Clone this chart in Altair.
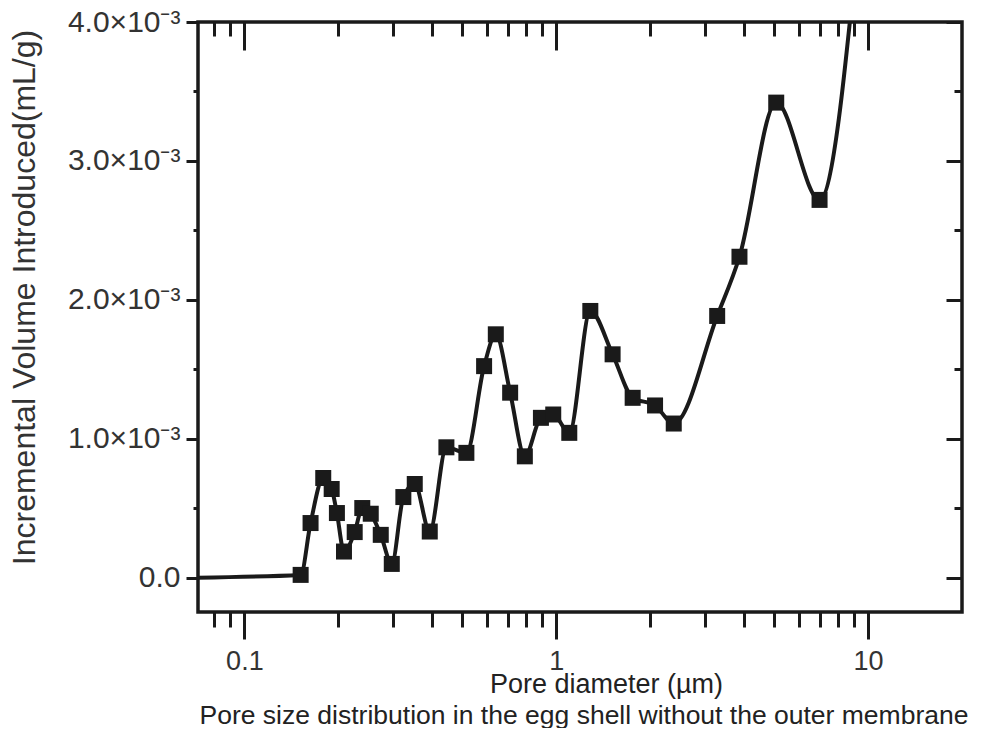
import altair as alt
import pandas as pd

# Pore diameter (µm) and incremental volume (×10^-3 mL/g)
diameter_um = [0.06, 0.1515, 0.163, 0.179, 0.1905, 0.198, 0.2086, 0.2258, 0.2388,
               0.2542, 0.2737, 0.2969, 0.3234, 0.3518, 0.393, 0.4444, 0.515, 0.587,
               0.640, 0.7115, 0.793, 0.893, 0.978, 1.101, 1.286, 1.516, 1.758, 2.074,
               2.381, 3.281, 3.868, 5.074, 6.987, 9.3]
volume_e3 = [0.0, 0.022, 0.395, 0.719, 0.64, 0.467, 0.19, 0.33, 0.503,
             0.462, 0.31, 0.101, 0.582, 0.676, 0.334, 0.94, 0.90, 1.524,
             1.753, 1.333, 0.875, 1.152, 1.176, 1.044, 1.921, 1.609, 1.296, 1.241,
             1.111, 1.885, 2.311, 3.42, 2.72, 4.6]

x_major = [0.1, 1, 10]
x_minor = [0.08, 0.09, 0.2, 0.3, 0.4, 0.5, 0.6, 0.7, 0.8, 0.9, 2, 3, 4, 5, 6, 7, 8, 9]
y_major = [0.0, 0.001, 0.002, 0.003, 0.004]
y_minor = [0.0005, 0.0015, 0.0025, 0.0035]

x_title = "Pore diameter (µm)"
y_title = "Incremental Volume Introduced(mL/g)"
caption = "Pore size distribution in the egg shell without the outer membrane"

df = pd.DataFrame({"d": diameter_um, "v": [v / 1000 for v in volume_e3]})

C = "#1a1a1a"
xs = alt.Scale(type="log", domain=[0.071, 20], nice=False)
ys = alt.Scale(domain=[-0.000245, 0.004], nice=False, zero=False)


def tick_axis(orient, values, size, offset=0):
    return alt.Axis(orient=orient, values=values, tickSize=size, offset=offset,
                    tickWidth=3, tickColor=C, domain=False, grid=False,
                    labels=False, title="")


base = alt.Chart(df)

main = base.mark_line(
    interpolate="monotone", clip=True, strokeWidth=4, color=C,
    point=alt.OverlayMarkDef(shape="square", size=256, filled=True, color=C,
                             opacity=1, clip=True),
).encode(
    x=alt.X("d:Q", scale=xs, axis=alt.Axis(
        orient="bottom", values=x_major, tickSize=27, tickWidth=3, tickColor=C,
        domain=False, grid=False, format="~g",
        labelFont="Liberation Sans", labelFontSize=27, labelColor="#333",
        labelPadding=9, labelOverlap=False, labelFlush=False,
        title=x_title, titleFont="Liberation Sans", titleFontSize=27,
        titleFontWeight="normal", titleColor="#222", titleX=408, titleY=80,
        titleAlign="center", titleBaseline="alphabetic")),
    y=alt.Y("v:Q", scale=ys, axis=alt.Axis(
        orient="left", values=y_major, tickSize=12, tickWidth=3, tickColor=C,
        domain=False, grid=False,
        labelExpr="datum.value == 0 ? '0.0' : format(datum.value * 1000, '.1f') + '×10⁻³'",
        labelFont="Liberation Sans", labelFontSize=30, labelColor="#333",
        labelPadding=6, labelOverlap=False, labelFlush=False,
        title=y_title, titleFont="Liberation Sans", titleFontSize=32,
        titleFontWeight="normal", titleColor="#333", titleX=-174, titleY=275,
        titleAngle=270, titleAlign="center", titleBaseline="middle")),
)

minor_in = base.mark_point(opacity=0, clip=True).encode(
    x=alt.X("d:Q", scale=xs, axis=tick_axis("bottom", x_minor, 15)),
    y=alt.Y("v:Q", scale=ys, axis=tick_axis("left", y_minor, 5)),
)
top_right_major = base.mark_point(opacity=0, clip=True).encode(
    x=alt.X("d:Q", scale=xs, axis=tick_axis("top", x_major, 28, -28)),
    y=alt.Y("v:Q", scale=ys, axis=tick_axis("right", y_major, 16, -16)),
)
top_right_minor = base.mark_point(opacity=0, clip=True).encode(
    x=alt.X("d:Q", scale=xs, axis=tick_axis("top", x_minor, 14, -14)),
    y=alt.Y("v:Q", scale=ys, axis=tick_axis("right", y_minor, 8, -8)),
)

chart = alt.layer(main, minor_in, top_right_major, top_right_minor).resolve_axis(
    x="independent", y="independent"
).properties(
    width=764, height=590,
    background="white",
    autosize=alt.AutoSizeParams(type="none"),
    padding={"left": 190, "top": 14, "right": 10, "bottom": 116},
    title=alt.TitleParams(text=caption, orient="bottom", anchor="middle",
                          frame="group", font="Liberation Sans", fontSize=26.5,
                          fontWeight="normal", color="#222", offset=6, dx=4),
).configure_view(stroke=C, strokeWidth=3.5)

chart.save("out.html", embed_options={"renderer": "svg", "actions": False})
